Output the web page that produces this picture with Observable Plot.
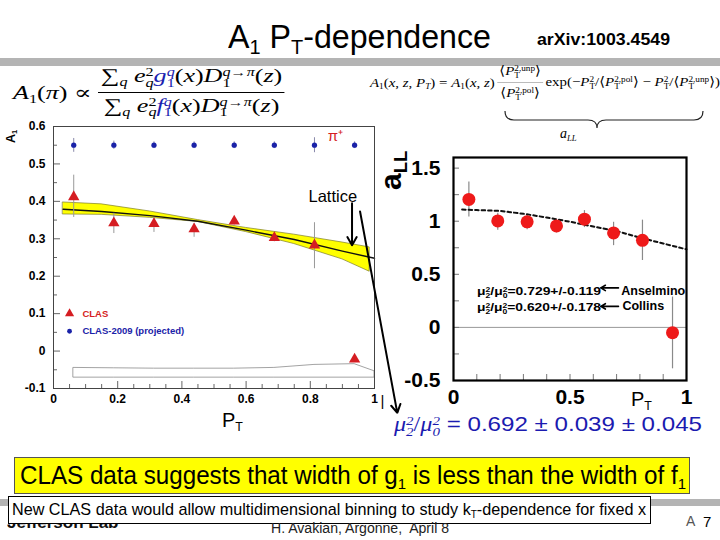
<!DOCTYPE html>
<html><head><meta charset="utf-8">
<script src="https://cdn.jsdelivr.net/npm/d3@7"></script>
<script src="https://cdn.jsdelivr.net/npm/@observablehq/plot@0.6"></script>
<style>
html,body{margin:0;padding:0;background:#fff;}
#page{position:relative;width:720px;height:540px;overflow:hidden;font-family:"Liberation Sans",Arial,sans-serif;color:#000;}
.abs{position:absolute;white-space:nowrap;line-height:1;}
.st{display:inline-block;vertical-align:-0.42em;line-height:0.9;font-size:0.62em;}
.st>span{display:block;}
.sub{font-size:0.62em;vertical-align:-0.3em;line-height:0;}
.serif{font-family:"Liberation Serif","DejaVu Serif",serif;}
.bl{color:#1a22b0;}
.fr{display:inline-flex;flex-direction:column;align-items:center;}
.fr>span:first-child{border-bottom:1px solid #000;padding:0 2px 2px 2px;}
.fr>span:last-child{padding-top:3px;}
.plotbox{position:absolute;}
.plotbox svg{overflow:visible;display:block;}
</style></head><body><div id="page"></div>
<script>
// ---------------- data ----------------
// Left panel: A1 vs P_T
const ptBins   = [0.063, 0.188, 0.313, 0.438, 0.563, 0.688, 0.813, 0.938];
const a1Clas   = [0.412, 0.342, 0.340, 0.326, 0.347, 0.303, 0.283, -0.022];
const a1ClasLo = [0.357, 0.314, 0.317, 0.304, 0.337, 0.292, 0.220, -0.027];
const a1ClasHi = [0.470, 0.368, 0.357, 0.341, 0.357, 0.314, 0.343, -0.017];
const a1Proj   = [0.55, 0.55, 0.55, 0.55, 0.55, 0.55, 0.55, 0.55];
const a1ProjLo = [0.531, 0.539, 0.541, 0.541, 0.541, 0.541, 0.530, 0.541];
const a1ProjHi = [0.568, 0.561, 0.559, 0.559, 0.559, 0.559, 0.570, 0.559];
const latticePt = [0.03, 0.15, 0.30, 0.45, 0.60, 0.75, 0.90, 0.985];
const latticeLo = [0.365, 0.364, 0.356, 0.345, 0.318, 0.286, 0.245, 0.212];
const latticeHi = [0.397, 0.392, 0.373, 0.350, 0.329, 0.311, 0.290, 0.277];
const latticeMidPt = [0.03, 0.15, 0.30, 0.45, 0.60, 0.75, 0.90, 1.0];
const latticeMid   = [0.379, 0.373, 0.362, 0.347, 0.323, 0.298, 0.267, 0.248];
const sysPt = [0.063, 0.188, 0.313, 0.438, 0.563, 0.688, 0.813, 0.938, 1.0];
const sysHi = [-0.045, -0.046, -0.047, -0.047, -0.047, -0.045, -0.037, -0.035, -0.054];
const sysLo = [-0.071, -0.071, -0.071, -0.071, -0.071, -0.071, -0.071, -0.071, -0.071];
const a1XTicks = [0, 0.2, 0.4, 0.6, 0.8, 1];
const a1YTicks = [-0.1, 0, 0.1, 0.2, 0.3, 0.4, 0.5, 0.6];
const a1MinorX = [0.05, 0.1, 0.15, 0.25, 0.3, 0.35, 0.45, 0.5, 0.55, 0.65, 0.7, 0.75, 0.85, 0.9, 0.95];
const a1MinorY = [-0.05, 0.05, 0.15, 0.25, 0.35, 0.45, 0.55];
const legendLabels = ["CLAS", "CLAS-2009 (projected)"];

// Right panel: a_LL vs P_T
const aLLPt = [0.066, 0.19, 0.316, 0.442, 0.562, 0.687, 0.811, 0.94];
const aLL   = [1.205, 1.003, 0.994, 0.956, 1.019, 0.89, 0.82, -0.05];
const aLLLo = [1.04, 0.915, 0.92, 0.89, 0.94, 0.77, 0.63, -0.39];
const aLLHi = [1.37, 1.075, 1.06, 1.01, 1.10, 0.99, 1.01, 0.286];
const fitPt  = [0.037, 0.1, 0.2, 0.3, 0.4, 0.5, 0.6, 0.7, 0.8, 0.9, 1.0];
const fitVal = [1.11, 1.105, 1.097, 1.07, 1.035, 0.995, 0.95, 0.907, 0.846, 0.79, 0.735];
const aLLXTicks = [0, 0.5, 1];
const aLLYTicks = [-0.5, 0, 0.5, 1, 1.5];
const aLLMinorX = [0.1, 0.2, 0.3, 0.4, 0.5, 0.6, 0.7, 0.8, 0.9];
const aLLMinorY = [-0.25, 0, 0.25, 0.5, 0.75, 1, 1.25, 1.5];
const muFits   = ["0.729+/-0.119", "0.620+/-0.178"];
const muModels = ["Anselmino", "Collins"];
const muResult = ["0.692", "0.039", "0.045"];

// ---------------- build rows ----------------
const clasRows = ptBins.map((x, i) => ({x, y: a1Clas[i], lo: a1ClasLo[i], hi: a1ClasHi[i]}));
const projRows = ptBins.map((x, i) => ({x, y: a1Proj[i], lo: a1ProjLo[i], hi: a1ProjHi[i]}));
const latRows = latticePt.map((x, i) => ({x, lo: latticeLo[i], hi: latticeHi[i]}));
const latMidRows = latticeMidPt.map((x, i) => ({x, y: latticeMid[i]}));
const sysRows = sysPt.map((x, i) => ({x, lo: sysLo[i], hi: sysHi[i]}));
const aRows = aLLPt.map((x, i) => ({x, y: aLL[i], lo: aLLLo[i], hi: aLLHi[i]}));
const fitRows = fitPt.map((x, i) => ({x, y: fitVal[i]}));

const font = "Liberation Sans, Arial, sans-serif";
const red = "#d51d22", blue = "#1a22a8";

const leftPlot = Plot.plot({
  width: 400, height: 330,
  marginLeft: 53, marginRight: 26, marginTop: 16, marginBottom: 52,
  x: {domain: [0, 1], label: null},
  y: {domain: [-0.1, 0.6], label: null},
  style: {background: "transparent", fontFamily: font, fontSize: "12px", fontWeight: "bold", overflow: "visible", color: "#000"},
  marks: [
    Plot.areaY(sysRows, {x: "x", y1: "lo", y2: "hi", fill: "white", stroke: "#8c8c8c", strokeWidth: 0.8}),
    Plot.areaY(latRows, {x: "x", y1: "lo", y2: "hi", fill: "#ffff00", stroke: "#7d7d2a", strokeWidth: 0.7}),
    Plot.line(latMidRows, {x: "x", y: "y", stroke: "#111", strokeWidth: 1.4}),
    Plot.ruleX(projRows, {x: "x", y1: "lo", y2: "hi", stroke: "#8888aa", strokeWidth: 1}),
    Plot.dot(projRows, {x: "x", y: "y", r: 2.6, fill: blue, stroke: null}),
    Plot.ruleX(clasRows, {x: "x", y1: "lo", y2: "hi", stroke: "#999", strokeWidth: 1}),
    Plot.dot(clasRows, {x: "x", y: "y", symbol: "triangle", r: 4.2, fill: red, stroke: null}),
    Plot.tickX(a1MinorX, {x: d => d, insetTop: 258, stroke: "#666"}),
    Plot.tickX(a1XTicks, {x: d => d, insetTop: 255, stroke: "#666"}),
    Plot.tickY(a1MinorY, {y: d => d, insetRight: 317, stroke: "#666"}),
    Plot.tickY(a1YTicks, {y: d => d, insetRight: 314, stroke: "#666"}),
    Plot.frame({stroke: "#444", strokeWidth: 1}),
    Plot.axisX({ticks: a1XTicks, tickSize: 0, tickPadding: 6, tickFormat: d => String(d), label: null}),
    Plot.axisY({ticks: a1YTicks, tickSize: 0, tickPadding: 8, tickFormat: d => String(d), label: null}),
    // legend
    Plot.dot([{x: 0.05, y: 0.10}], {x: "x", y: "y", symbol: "triangle", r: 3.4, fill: red, stroke: null}),
    Plot.dot([{x: 0.05, y: 0.053}], {x: "x", y: "y", r: 2.4, fill: blue, stroke: null}),
    Plot.text([{x: 0.09, y: 0.10, t: legendLabels[0]}], {x: "x", y: "y", text: "t", textAnchor: "start", fill: red, fontSize: 9.5, fontWeight: "bold"}),
    Plot.text([{x: 0.09, y: 0.053, t: legendLabels[1]}], {x: "x", y: "y", text: "t", textAnchor: "start", fill: blue, fontSize: 9.5, fontWeight: "bold"}),
    Plot.text([{x: 0.878, y: 0.574, t: "π⁺"}], {x: "x", y: "y", text: "t", fill: red, fontSize: 15, fontWeight: "normal"}),
    // Lattice annotation
    Plot.text([{x: 0.87, y: 0.413, t: "Lattice"}], {x: "x", y: "y", text: "t", fill: "#000", fontSize: 16.5, fontWeight: "normal"}),
    Plot.arrow([{x1: 0.93, y1: 0.395, x2: 0.93, y2: 0.283}], {x1: "x1", y1: "y1", x2: "x2", y2: "y2", stroke: "#000", strokeWidth: 2, headLength: 7}),
    Plot.arrow([{x1: 0.955, y1: 0.373, x2: 1.071, y2: -0.165}], {x1: "x1", y1: "y1", x2: "x2", y2: "y2", stroke: "#000", strokeWidth: 2, headLength: 7}),
    Plot.text([{x: 1.025, y: -0.135, t: "|"}], {x: "x", y: "y", text: "t", fill: "#000", fontSize: 15, fontWeight: "normal"})
  ]
});

const rightPlot = Plot.plot({
  width: 340, height: 300,
  marginLeft: 73, marginRight: 34, marginTop: 27, marginBottom: 50,
  x: {domain: [0, 1], label: null},
  y: {domain: [-0.5, 1.6], label: null},
  style: {background: "transparent", fontFamily: font, fontSize: "21px", fontWeight: "bold", overflow: "visible", color: "#000"},
  marks: [
    Plot.ruleY([0], {stroke: "#999", strokeWidth: 1}),
    Plot.tickX(aLLMinorX, {x: d => d, insetTop: 217, stroke: "#777"}),
    Plot.tickY(aLLMinorY, {y: d => d, insetRight: 227, stroke: "#777"}),
    Plot.ruleX(aRows, {x: "x", y1: "lo", y2: "hi", stroke: "#8a8a8a", strokeWidth: 1.2}),
    Plot.line(fitRows, {x: "x", y: "y", stroke: "#111", strokeWidth: 2, strokeDasharray: "3.5,3"}),
    Plot.dot(aRows, {x: "x", y: "y", r: 6.5, fill: "#ee1a1a", stroke: null}),
    Plot.frame({stroke: "#000", strokeWidth: 2.2}),
    Plot.axisX({ticks: aLLXTicks, tickSize: 0, tickPadding: 9, tickFormat: d => String(d), label: null}),
    Plot.axisY({ticks: aLLYTicks, tickSize: 0, tickPadding: 13, tickFormat: d => String(d), label: null}),
    Plot.arrow([{x1: 0.708, y1: 0.372, x2: 0.632, y2: 0.372}, {x1: 0.708, y1: 0.198, x2: 0.632, y2: 0.198}],
      {x1: "x1", y1: "y1", x2: "x2", y2: "y2", stroke: "#000", strokeWidth: 1.6, headLength: 5}),
    Plot.text([{x: 0.72, y: 0.345, t: muModels[0]}, {x: 0.725, y: 0.2, t: muModels[1]}],
      {x: "x", y: "y", text: "t", textAnchor: "start", fill: "#000", fontSize: 12.5, fontWeight: "bold"})
  ]
});

// ---------------- page ----------------
const page = document.getElementById("page");
const mu = (b) => `μ<span class="st"><span>2</span><span>${b}</span></span>`;
page.innerHTML = `
<div class="abs" style="left:0;top:58px;width:720px;height:8px;background:#b4b4b4"></div>
<div id="title" class="abs" style="left:228px;top:19px;font-size:34px;">A<span class="sub">1</span> P<span class="sub">T</span>-dependence</div>
<div id="arx" class="abs" style="left:537px;top:31px;font-size:17px;font-weight:bold;">arXiv:1003.4549</div>
<div id="f1" class="abs serif" style="left:13px;top:66px;font-size:19px;display:flex;align-items:center;">
  <span><i>A</i><span class="sub">1</span>(<i>π</i>) ∝&nbsp;</span>
  <span class="fr">
    <span>∑<span class="sub"><i>q</i></span> <i>e</i><span class="st"><span>2</span><span><i>q</i></span></span><i class="bl">g</i><span class="st"><span class="bl"><i>q</i></span><span class="bl">1</span></span>(<i>x</i>)<i>D</i><span class="st"><span><i>q</i>→<i>π</i></span><span>1</span></span>(<i>z</i>)</span>
    <span>∑<span class="sub"><i>q</i></span> <i>e</i><span class="st"><span>2</span><span><i>q</i></span></span><i class="bl">f</i><span class="st"><span class="bl"><i>q</i></span><span class="bl">1</span></span>(<i>x</i>)<i>D</i><span class="st"><span><i>q</i>→<i>π</i></span><span>1</span></span>(<i>z</i>)</span>
  </span>
</div>
<div id="f2" class="abs serif" style="left:370px;top:64px;font-size:13px;display:flex;align-items:center;">
  <span><i>A</i><span class="sub">1</span>(<i>x</i>, <i>z</i>, <i>P<span class="sub">T</span></i>) = <i>A</i><span class="sub">1</span>(<i>x</i>, <i>z</i>)</span>
  <span class="fr" style="margin:0 2px"><span style="border-bottom-color:#bbb">⟨<i>P</i><span class="st"><span>2,unp</span><span>T</span></span>⟩</span><span>⟨<i>P</i><span class="st"><span>2,pol</span><span>T</span></span>⟩</span></span>
  <span>exp(−<i>P</i><span class="st"><span>2</span><span>T</span></span>/⟨<i>P</i><span class="st"><span>2,pol</span><span>T</span></span>⟩ − <i>P</i><span class="st"><span>2</span><span>T</span></span>/⟨<i>P</i><span class="st"><span>2,unp</span><span>T</span></span>⟩)</span>
</div>
<svg class="abs" style="left:0;top:0;overflow:visible" width="720" height="540">
  <path d="M505,111 q0,9 9,9 L588,120 q9,0 9,8 q0,-8 9,-8 L694,120 q9,0 9,-9" fill="none" stroke="#222" stroke-width="1.2"/>
</svg>
<div class="abs serif" style="left:560px;top:127px;font-size:14px;"><i>a</i><span class="sub"><i>LL</i></span></div>
<div id="lp" class="plotbox" style="left:0;top:110px"></div>
<div id="rp" class="plotbox" style="left:380px;top:130px"></div>
<div class="abs" style="left:5px;top:143px;font-size:12.5px;font-weight:bold;transform-origin:0 0;transform:rotate(-90deg)">A<span class="sub">1</span></div>
<div class="abs" style="left:376px;top:190px;font-size:30px;font-weight:bold;transform-origin:0 0;transform:rotate(-90deg)">a<span class="sub">LL</span></div>
<div class="abs" style="left:222px;top:410px;font-size:20px;">P<span class="sub">T</span></div>
<div class="abs" style="left:631px;top:389px;font-size:20px;">P<span class="sub">T</span></div>
<div id="mu1" class="abs" style="left:477px;top:286px;font-size:11.5px;font-weight:bold;">${mu(2)}/${mu(0)}=${muFits[0]}</div>
<div id="mu2" class="abs" style="left:477px;top:302px;font-size:11.5px;font-weight:bold;">${mu(2)}/${mu(0)}=${muFits[1]}</div>
<div id="mures" class="abs" style="left:394px;top:413px;font-size:21px;color:#1b1bb0;"><span class="serif"><i>${mu(2)}</i>/<i>${mu(0)}</i></span> = ${muResult[0]} ± ${muResult[1]} ± ${muResult[2]}</div>
<div class="abs" style="left:14px;top:457px;width:674px;height:35px;background:#ffff00;border:1px solid #555"></div>
<div id="yel" class="abs" style="left:20px;top:463px;font-size:25px;">CLAS data suggests that width of g<span class="sub">1</span> is less than the width of f<span class="sub">1</span></div>
<div class="abs" style="left:0;top:499px;width:720px;height:7px;background:#b4b4b4"></div>
<div class="abs" style="left:7px;top:523px;width:130px;height:12px;overflow:hidden;"><div style="position:absolute;left:0;top:-9px;font-size:17px;font-weight:bold;color:#111;white-space:nowrap;line-height:1">Jefferson Lab</div></div>
<div class="abs" style="left:8px;top:496px;width:641px;height:26px;background:#fff;border:1px solid #000"></div>
<div id="wht" class="abs" style="left:12px;top:501px;font-size:17px;">New CLAS data would allow multidimensional binning to study k<span class="sub">T</span>-dependence for fixed x</div>
<div id="foot" class="abs" style="left:271px;top:521px;font-size:14px;color:#222">H. Avakian, Argonne,&nbsp; April 8</div>
<div class="abs" style="left:686px;top:514px;font-size:14px;color:#555">A</div>
<div class="abs" style="left:703px;top:514px;font-size:15px;">7</div>
`;
document.getElementById("lp").appendChild(leftPlot);
document.getElementById("rp").appendChild(rightPlot);

function fitWidth(id, w) {
  const el = document.getElementById(id);
  const bw = el.getBoundingClientRect().width;
  if (bw > 0) { el.style.transformOrigin = "0 0"; el.style.transform = `scaleX(${w / bw})`; }
}
fitWidth("title", 263);
fitWidth("arx", 133);
fitWidth("f1", 272);
fitWidth("f2", 350);
fitWidth("mu1", 124);
fitWidth("mu2", 124);
fitWidth("mures", 308);
fitWidth("yel", 666);
fitWidth("wht", 634);
fitWidth("foot", 178);
</script></body></html>
